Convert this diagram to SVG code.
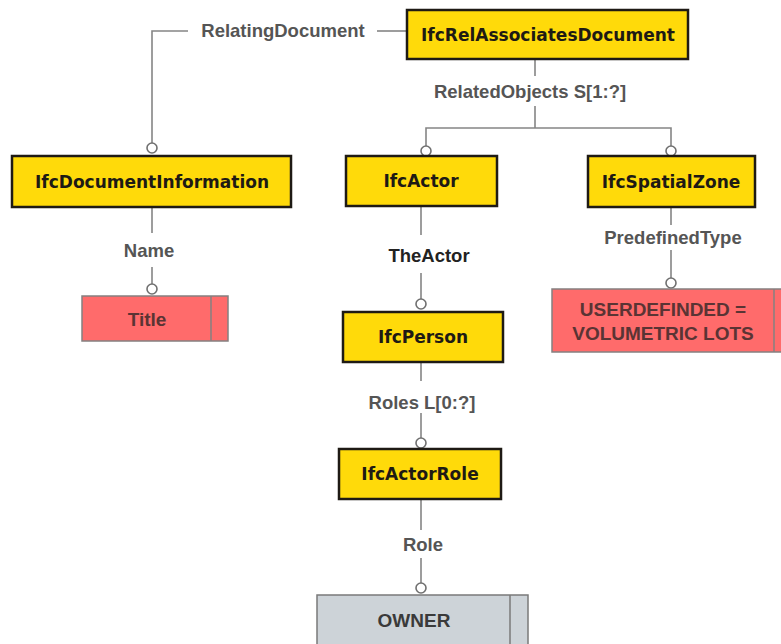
<svg xmlns="http://www.w3.org/2000/svg" width="781" height="644" viewBox="0 0 781 644">
<style>
.ent{fill:#FFDA0A;stroke:#1E1A14;stroke-width:2.5}
.et{font-family:"DejaVu Sans",Verdana,sans-serif;font-weight:bold;font-size:17px;fill:#1E1A14;text-anchor:middle}
.lbl{font-family:"Liberation Sans",Arial,sans-serif;font-weight:bold;font-size:18.5px;fill:#555;text-anchor:middle}
.val{fill:#FF6B6B;stroke:#858080;stroke-width:1.5}
.gry{fill:#CDD3D8;stroke:#7A7A7A;stroke-width:1.5}
.vt{font-family:"Liberation Sans",Arial,sans-serif;font-weight:bold;font-size:19px;fill:#5A3434;text-anchor:middle}
.gt{font-family:"Liberation Sans",Arial,sans-serif;font-weight:bold;font-size:19px;fill:#3A3A3A;text-anchor:middle}
.ln{fill:none;stroke:#858585;stroke-width:1.6}
.dot{fill:#fff;stroke:#707070;stroke-width:1.6}
</style>
<rect width="781" height="644" fill="#fff"/>
<g id="connectors">
<path class="ln" d="M188,31 H152 V143"/>
<path class="ln" d="M377,31 H407"/>
<path class="ln" d="M535,59 V76 M535,106 V128 M426,151 V128 H671 V151"/>
<path class="ln" d="M152,207 V233 M152,267 V284"/>
<path class="ln" d="M421,206 V235 M421,273 V299"/>
<path class="ln" d="M671,207 V225 M671,250 V278"/>
<path class="ln" d="M421,362 V381 M421,413 V438"/>
<path class="ln" d="M421,499 V530 M421,558 V583"/>
<circle class="dot" cx="152" cy="148" r="5"/>
<circle class="dot" cx="426" cy="151" r="5"/>
<circle class="dot" cx="671" cy="151" r="5"/>
<circle class="dot" cx="152" cy="289" r="5"/>
<circle class="dot" cx="421" cy="304" r="5"/>
<circle class="dot" cx="671" cy="283" r="5"/>
<circle class="dot" cx="421" cy="443" r="5"/>
<circle class="dot" cx="421" cy="588" r="5"/>
<text class="lbl" x="283" y="37">RelatingDocument</text>
<text class="lbl" x="530" y="98">RelatedObjects S[1:?]</text>
<text class="lbl" x="149" y="257">Name</text>
<text class="lbl" x="429" y="262" style="fill:#222">TheActor</text>
<text class="lbl" x="673" y="244">PredefinedType</text>
<text class="lbl" x="422" y="409">Roles L[0:?]</text>
<text class="lbl" x="423" y="551">Role</text>
</g>
<g id="IfcRelAssociatesDocument">
<rect class="ent" x="407" y="10" width="281" height="49"/>
<text class="et" x="548" y="41">IfcRelAssociatesDocument</text>
</g>
<g id="IfcDocumentInformation">
<rect class="ent" x="12" y="156" width="279" height="51"/>
<text class="et" x="152" y="188">IfcDocumentInformation</text>
</g>
<g id="IfcActor">
<rect class="ent" x="346" y="156" width="151" height="50"/>
<text class="et" x="421" y="187">IfcActor</text>
</g>
<g id="IfcSpatialZone">
<rect class="ent" x="588" y="156" width="167" height="51"/>
<text class="et" x="671" y="188">IfcSpatialZone</text>
</g>
<g id="Title">
<rect class="val" x="82" y="296" width="146" height="45"/>
<line class="val" x1="211" y1="296" x2="211" y2="341"/>
<text class="vt" x="147" y="326">Title</text>
</g>
<g id="IfcPerson">
<rect class="ent" x="343" y="312" width="160" height="50"/>
<text class="et" x="423" y="343">IfcPerson</text>
</g>
<g id="UserDefined">
<rect class="val" x="552" y="289" width="240" height="63"/>
<line class="val" x1="774" y1="289" x2="774" y2="352"/>
<text class="vt" x="663" y="316">USERDEFINDED =</text>
<text class="vt" x="663" y="340">VOLUMETRIC LOTS</text>
</g>
<g id="IfcActorRole">
<rect class="ent" x="339" y="449" width="162" height="50"/>
<text class="et" x="420" y="480">IfcActorRole</text>
</g>
<g id="OWNER">
<rect class="gry" x="317" y="595" width="211" height="60"/>
<line class="gry" x1="510" y1="595" x2="510" y2="655"/>
<text class="gt" x="414" y="627">OWNER</text>
</g>
</svg>
